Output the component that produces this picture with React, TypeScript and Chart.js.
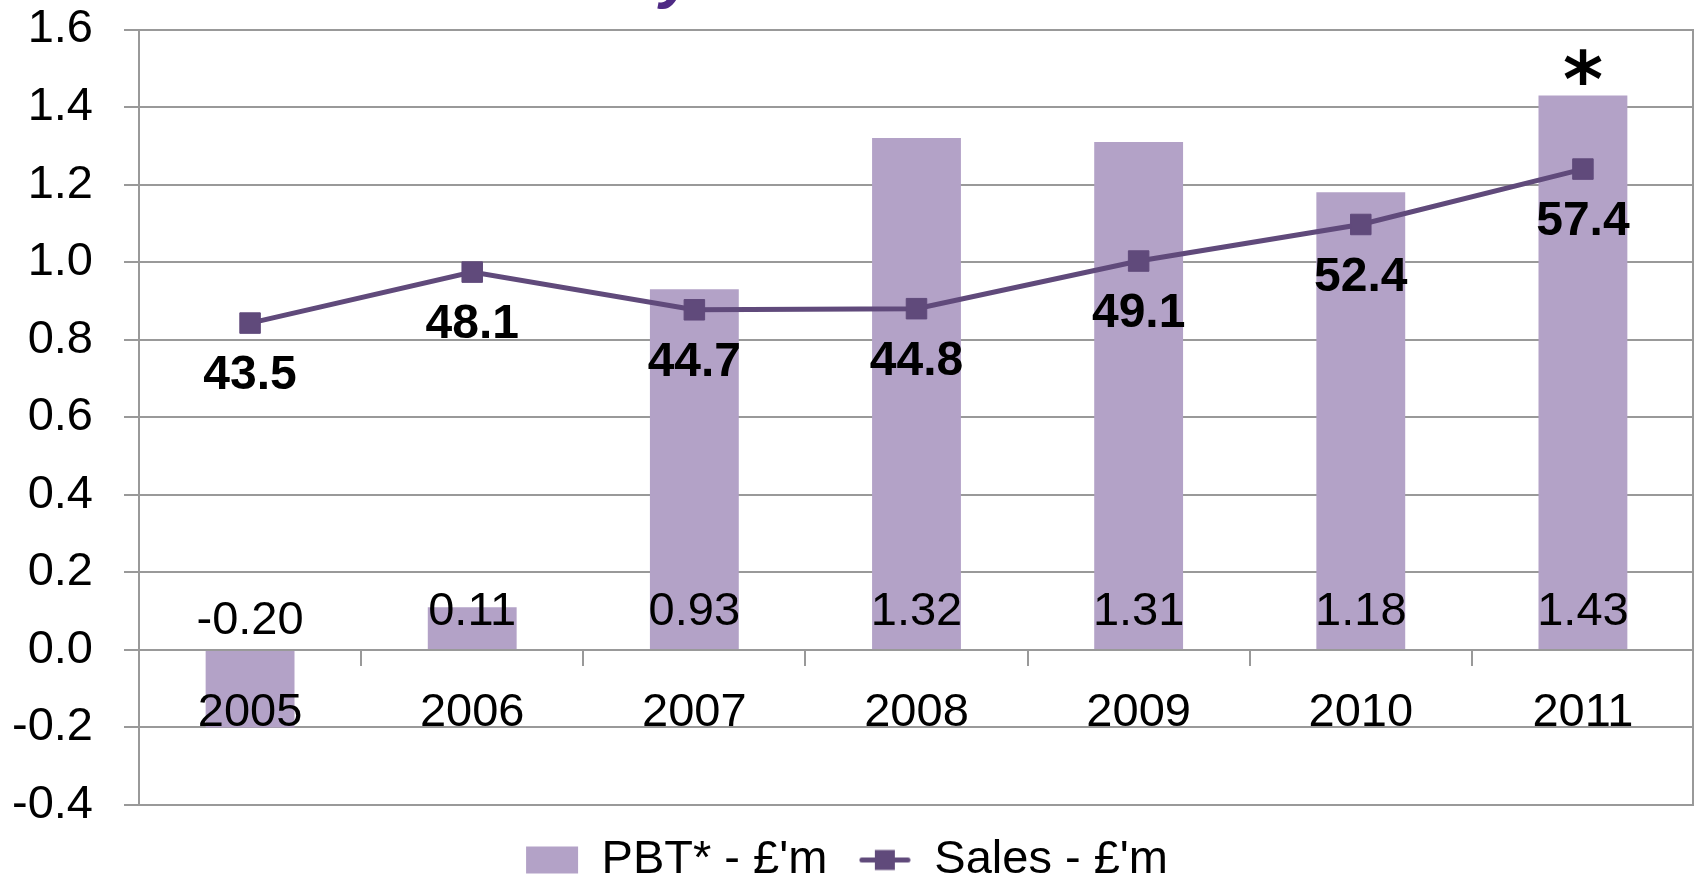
import React, { useEffect, useRef } from 'react';
import { Chart, registerables } from 'chart.js';

Chart.register(...registerables);

// ---- data ----
const years = ['2005', '2006', '2007', '2008', '2009', '2010', '2011'];
const pbt = [-0.2, 0.11, 0.93, 1.32, 1.31, 1.18, 1.43];
const sales = [43.5, 48.1, 44.7, 44.8, 49.1, 52.4, 57.4];
const barNotes = ['', '', '', '', '', '', '*'];
const seriesNames = ["PBT* - £'m", "Sales - £'m"];
const pbtAxis = [-0.4, 1.6, 0.2];
const salesAxis = [0, 70];

// ---- style ----
const FONT = "'Liberation Sans', Arial, sans-serif";
const BAR_COLOR = '#B3A2C7';
const LINE_COLOR = '#604A7B';
const GRID = '#999999';

function makeLineIcon(): HTMLCanvasElement {
  const c = document.createElement('canvas');
  c.width = 52;
  c.height = 27;
  const g = c.getContext('2d')!;
  g.strokeStyle = LINE_COLOR;
  g.lineWidth = 5;
  g.lineCap = 'round';
  g.beginPath();
  g.moveTo(3, 13.5);
  g.lineTo(49, 13.5);
  g.stroke();
  g.fillStyle = LINE_COLOR;
  g.fillRect(26 - 10, 13.5 - 10, 20, 20);
  return c;
}

const labelsPlugin = {
  id: 'valueLabels',
  afterDatasetsDraw(chart: any) {
    const ctx = chart.ctx as CanvasRenderingContext2D;
    const yScale = chart.scales.y;
    const zero = yScale.getPixelForValue(0);
    const barMeta = chart.getDatasetMeta(0);
    const lineMeta = chart.getDatasetMeta(1);
    ctx.save();
    ctx.textAlign = 'center';
    ctx.textBaseline = 'middle';
    ctx.fillStyle = '#000';
    ctx.font = `47px ${FONT}`;
    barMeta.data.forEach((el: any, i: number) => {
      const v = pbt[i];
      ctx.fillText(v.toFixed(2), el.x, v >= 0 ? zero - 38 : zero - 29);
    });
    ctx.font = `bold 48px ${FONT}`;
    lineMeta.data.forEach((el: any, i: number) => {
      ctx.fillText(sales[i].toFixed(1), el.x, el.y + 53);
    });
    // note mark above a bar, sized to ~36px glyph height
    ctx.textBaseline = 'alphabetic';
    barMeta.data.forEach((el: any, i: number) => {
      const note = barNotes[i];
      if (!note) return;
      ctx.font = `bold 100px 'DejaVu Sans', ${FONT}`;
      const m0 = ctx.measureText(note);
      const h0 = m0.actualBoundingBoxAscent + m0.actualBoundingBoxDescent;
      const size = h0 > 0 ? (100 * 36) / h0 : 90;
      ctx.font = `bold ${size}px 'DejaVu Sans', ${FONT}`;
      const m = ctx.measureText(note);
      const center = el.y - 28;
      const baseline = center - (m.actualBoundingBoxDescent - m.actualBoundingBoxAscent) / 2;
      ctx.fillText(note, el.x, baseline);
    });
    const ca = chart.chartArea;
    ctx.strokeStyle = GRID;
    ctx.lineWidth = 2;
    ctx.beginPath();
    ctx.moveTo(ca.right - 1, ca.top);
    ctx.lineTo(ca.right - 1, ca.bottom);
    ctx.stroke();
    // fragment of the slide title cut off at the top edge
    ctx.fillStyle = '#4E2A84';
    ctx.font = `italic bold 64px ${FONT}`;
    ctx.textAlign = 'left';
    ctx.fillText('y', 660, -4);
    ctx.restore();
  },
};

export default function App() {
  const ref = useRef<HTMLCanvasElement>(null);
  useEffect(() => {
    document.body.style.margin = '0';
    document.body.style.overflow = 'hidden';
    const canvas = ref.current;
    if (!canvas) return;
    const lineIcon = makeLineIcon();
    const chart = new Chart(canvas, {
      type: 'bar',
      data: {
        labels: years,
        datasets: [
          {
            type: 'bar',
            label: seriesNames[0],
            data: pbt,
            backgroundColor: BAR_COLOR,
            barPercentage: 0.4,
            categoryPercentage: 1.0,
            yAxisID: 'y',
            order: 2,
          },
          {
            type: 'line',
            label: seriesNames[1],
            data: sales,
            borderColor: LINE_COLOR,
            backgroundColor: LINE_COLOR,
            borderWidth: 5,
            pointStyle: 'rect',
            pointRadius: 14.5,
            pointBackgroundColor: LINE_COLOR,
            pointBorderColor: LINE_COLOR,
            pointBorderWidth: 1,
            tension: 0,
            yAxisID: 'y2',
            order: 1,
          },
        ] as any,
      },
      options: {
        responsive: false,
        animation: false,
        layout: {
          autoPadding: false,
          padding: { top: 29.5, bottom: -18.5, left: 0, right: 0 },
        },
        plugins: {
          tooltip: { enabled: false },
          legend: {
            position: 'bottom',
            labels: {
              font: { size: 47, family: FONT },
              color: '#000',
              usePointStyle: true,
              pointStyleWidth: 52,
              boxHeight: 27,
              padding: 31.5,
              generateLabels: (c: any) => {
                const ds = c.data.datasets;
                return [
                  {
                    text: ds[0].label,
                    fillStyle: BAR_COLOR,
                    strokeStyle: BAR_COLOR,
                    lineWidth: 0,
                    pointStyle: 'rect',
                    hidden: false,
                    datasetIndex: 0,
                    fontColor: '#000',
                  },
                  {
                    text: ds[1].label,
                    fillStyle: LINE_COLOR,
                    strokeStyle: LINE_COLOR,
                    lineWidth: 0,
                    pointStyle: lineIcon,
                    hidden: false,
                    datasetIndex: 1,
                    fontColor: '#000',
                  },
                ];
              },
            },
          },
        },
        scales: {
          x: {
            type: 'category',
            offset: true,
            position: { y: 0 } as any,
            afterFit: (s: any) => {
              s.paddingLeft = 0;
              s.paddingRight = 0;
            },
            grid: {
              display: true,
              drawOnChartArea: false,
              drawTicks: true,
              tickLength: 16,
              color: GRID,
              lineWidth: 2,
              offset: true,
            },
            border: { display: false },
            ticks: {
              z: 1,
              font: { size: 47, family: FONT },
              color: '#000',
              padding: 19,
              maxRotation: 0,
              autoSkip: false,
            },
          },
          y: {
            type: 'linear',
            position: 'left',
            min: pbtAxis[0],
            max: pbtAxis[1],
            afterFit: (s: any) => {
              s.width = 139;
              s.paddingTop = 0;
              s.paddingBottom = 0;
            },
            grid: { color: GRID, lineWidth: 2, tickLength: 15, drawTicks: true },
            border: { display: true, color: GRID, width: 2 },
            ticks: {
              stepSize: pbtAxis[2],
              padding: 31,
              color: '#000',
              font: { size: 47, family: FONT },
              callback: (v: any) => Number(v).toFixed(1),
            },
          },
          y2: {
            type: 'linear',
            position: 'right',
            display: false,
            min: salesAxis[0],
            max: salesAxis[1],
            grid: { drawOnChartArea: false },
          },
        },
      } as any,
      plugins: [labelsPlugin],
    });
    return () => chart.destroy();
  }, []);
  return (
    <canvas
      ref={ref}
      width={1694}
      height={875}
      style={{ display: 'block', width: '1694px', height: '875px' }}
    />
  );
}
